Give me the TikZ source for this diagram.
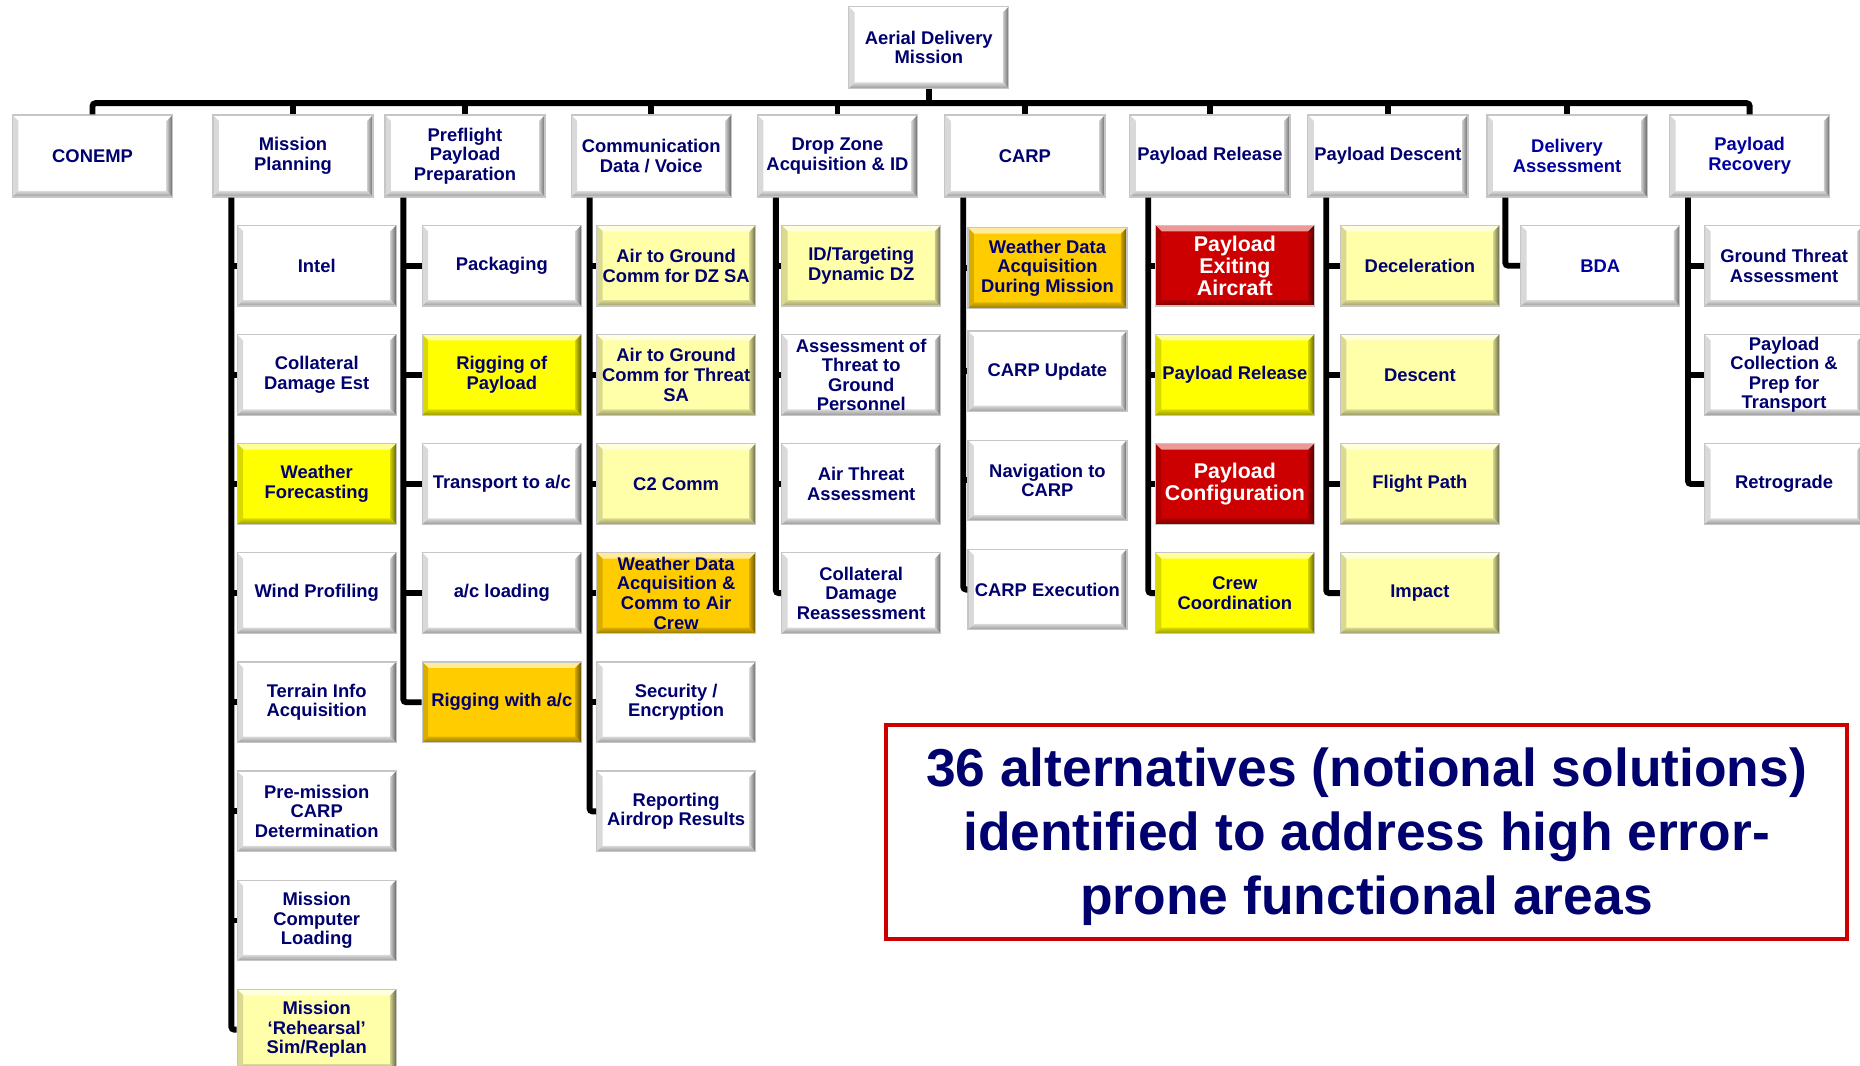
\documentclass[tikz,border=0pt]{standalone}
\usepackage{fontspec}
\setmainfont{Liberation Sans}
\usepackage[dvipsnames]{xcolor}
\definecolor{navy}{RGB}{0,0,110}
\definecolor{deepblue}{RGB}{0,0,160}
\definecolor{paleyellow}{RGB}{255,255,170}
\definecolor{brightyellow}{RGB}{255,255,0}
\definecolor{gold}{RGB}{255,204,0}
\definecolor{alarmred}{RGB}{204,0,0}
\newcommand{\boxfont}{\fontsize{15.5}{16.5}\selectfont\bfseries}
\newcommand{\redfont}{\fontsize{18}{18.5}\selectfont\bfseries}
\newcommand{\notefont}{\fontsize{45}{54}\selectfont\bfseries}

\tikzset{
  box/.style={rectangle, draw=gray!45, line width=1pt, fill=#1, text=navy, font=\boxfont,
    align=center, inner sep=1pt, minimum width=134, minimum height=68,
    path picture={
      \coordinate (bsw) at (path picture bounding box.south west);
      \coordinate (bne) at (path picture bounding box.north east);
      \coordinate (bnw) at (bsw |- bne);
      \coordinate (bse) at (bne |- bsw);
      \fill[#1!40!white] (bnw) -- (bne) -- ([shift={(-5pt,-5pt)}]bne) -- ([shift={(5pt,-5pt)}]bnw) -- cycle;
      \fill[#1!85!black] (bnw) -- ([shift={(5pt,-5pt)}]bnw) -- ([shift={(5pt,5pt)}]bsw) -- (bsw) -- cycle;
      \shade[left color=#1!80!black, right color=#1!40!black] (bne) -- (bse) -- ([shift={(-5pt,5pt)}]bse) -- ([shift={(-5pt,-5pt)}]bne) -- cycle;
      \shade[top color=#1!85!black, bottom color=#1!60!black] (bsw) -- ([shift={(5pt,5pt)}]bsw) -- ([shift={(-5pt,5pt)}]bse) -- (bse) -- cycle;
    }},
  main node/.style={box=white, minimum width=135, minimum height=69},
  sub node/.style={box=#1},
  sub node/.default=white,
  red node/.style={box=alarmred, text=white, font=\redfont},
  tree line/.style={line width=5pt, black, rounded corners=2.5pt},
}

\begin{document}
\begin{tikzpicture}[x=1pt,y=-1pt,node distance=92pt]
\useasboundingbox (0,0) rectangle (1568,898);

% top level
\node[main node] (adm) at (783,40) {Aerial Delivery\\Mission};
\node[main node] (conemp) at (78,131.5) {CONEMP};
\node[main node] (plan) at (247,131.5) {Mission\\Planning};
\node[main node] (prep) at (392,131.5) {Preflight\\Payload\\Preparation};
\node[main node] (comm) at (549,131.5) {Communication\\Data / Voice};
\node[main node] (dz) at (706,131.5) {Drop Zone\\Acquisition \& ID};
\node[main node] (carp) at (864,131.5) {CARP};
\node[main node] (rel) at (1020,131.5) {Payload Release};
\node[main node] (desc) at (1170,131.5) {Payload Descent};
\node[main node, text=deepblue] (assess) at (1321,131.5) {Delivery\\Assessment};
\node[main node, text=deepblue] (recov) at (1475,131.5) {Payload\\Recovery};

% mission planning
\node[sub node] (p1) at (267,224) {Intel};
\node[sub node] (p2) [below of=p1] {Collateral\\Damage Est};
\node[sub node=brightyellow] (p3) [below of=p2] {Weather\\Forecasting};
\node[sub node] (p4) [below of=p3] {Wind Profiling};
\node[sub node] (p5) [below of=p4] {Terrain Info\\Acquisition};
\node[sub node] (p6) [below of=p5] {Pre-mission\\CARP\\Determination};
\node[sub node] (p7) [below of=p6] {Mission\\Computer\\Loading};
\node[sub node=paleyellow] (p8) [below of=p7] {Mission\\‘Rehearsal’\\Sim/Replan};

% preflight payload preparation
\node[sub node] (f1) at (423,224) {Packaging};
\node[sub node=brightyellow] (f2) [below of=f1] {Rigging of\\Payload};
\node[sub node] (f3) [below of=f2] {Transport to a/c};
\node[sub node] (f4) [below of=f3] {a/c loading};
\node[sub node=gold] (f5) [below of=f4] {Rigging with a/c};

% communication
\node[sub node=paleyellow] (c1) at (570,224) {Air to Ground\\Comm for DZ SA};
\node[sub node=paleyellow] (c2) [below of=c1] {Air to Ground\\Comm for Threat\\SA};
\node[sub node=paleyellow] (c3) [below of=c2] {C2 Comm};
\node[sub node=gold] (c4) [below of=c3] {Weather Data\\Acquisition \&\\Comm to Air\\Crew};
\node[sub node] (c5) [below of=c4] {Security /\\Encryption};
\node[sub node] (c6) [below of=c5] {Reporting\\Airdrop Results};

% drop zone
\node[sub node=paleyellow] (z1) at (726,224) {ID/Targeting\\Dynamic DZ};
\node[sub node] (z2) [below of=z1] {Assessment of\\Threat to\\Ground\\Personnel};
\node[sub node] (z3) [below of=z2] {Air Threat\\Assessment};
\node[sub node] (z4) [below of=z3] {Collateral\\Damage\\Reassessment};

% carp
\node[sub node=gold] (k1) at (883,226) {Weather Data\\Acquisition\\During Mission};
\node[sub node] (k2) at (883,313) {CARP Update};
\node[sub node] (k3) [below of=k2] {Navigation to\\CARP};
\node[sub node] (k4) [below of=k3] {CARP Execution};

% payload release
\node[red node] (r1) at (1041,224) {Payload\\Exiting\\Aircraft};
\node[sub node=brightyellow] (r2) [below of=r1] {Payload Release};
\node[red node] (r3) [below of=r2] {Payload\\Configuration};
\node[sub node=brightyellow] (r4) [below of=r3] {Crew\\Coordination};

% payload descent
\node[sub node=paleyellow] (d1) at (1197,224) {Deceleration};
\node[sub node=paleyellow] (d2) [below of=d1] {Descent};
\node[sub node=paleyellow] (d3) [below of=d2] {Flight Path};
\node[sub node=paleyellow] (d4) [below of=d3] {Impact};

% delivery assessment
\node[sub node, text=deepblue] (a1) at (1349,224) {BDA};

% payload recovery
\node[sub node] (v1) at (1504,224) {Ground Threat\\Assessment};
\node[sub node] (v2) [below of=v1] {Payload\\Collection \&\\Prep for\\Transport};
\node[sub node] (v3) [below of=v2] {Retrograde};

% connectors
\coordinate (bus) at (783,87);
\draw[tree line] (adm.south) -- (bus);
\draw[tree line] (conemp.north) |- (bus) -| (recov.north);
\foreach \up in {plan,prep,comm,dz,carp,rel,desc,assess}
  \draw[tree line] (bus -| \up.north) -- (\up.north);

\foreach \up/\kid/\nkids in {plan/p/8,prep/f/5,comm/c/6,dz/z/4,carp/k/4,rel/r/4,desc/d/4,assess/a/1,recov/v/3} {
  \coordinate (T\up) at ([xshift=16pt]\up.south west);
  \draw[tree line] (T\up) |- (\kid\nkids.west);
  \foreach \i in {1,...,\nkids} {
    \ifnum\i<\nkids\relax
      \draw[tree line] (T\up |- \kid\i.west) -- (\kid\i.west);
    \fi
  }
}

% summary
\node[draw=alarmred, line width=3.5pt, minimum width=810, minimum height=180,
  text=navy, font=\notefont, align=center] (note) at (1152,701.5)
  {\rule{0pt}{41pt}36 alternatives (notional solutions)\\identified to address high error-\\prone functional areas};
\end{tikzpicture}
\end{document}
